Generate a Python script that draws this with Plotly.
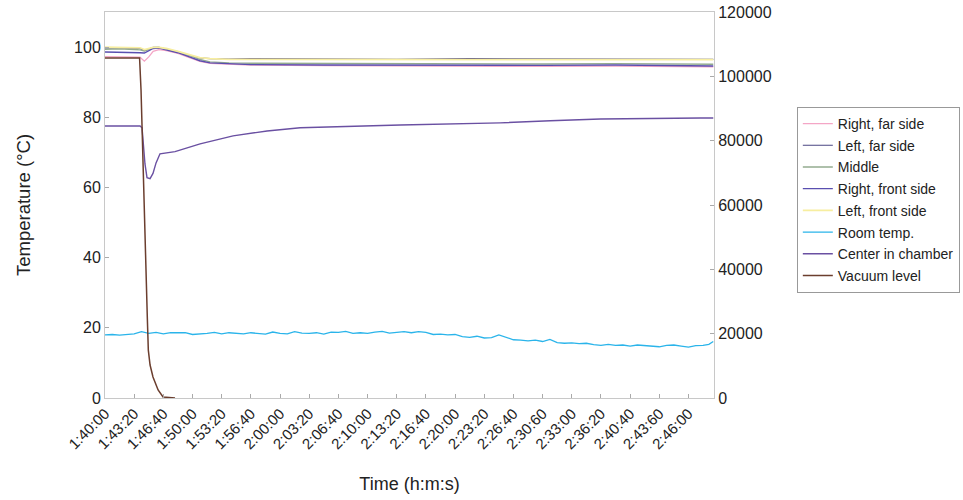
import plotly.graph_objects as go

# time offsets in seconds from 1:40:00
tick_labels = ["1:40:00", "1:43:20", "1:46:40", "1:50:00", "1:53:20", "1:56:40",
               "2:00:00", "2:03:20", "2:06:40", "2:10:00", "2:13:20", "2:16:40",
               "2:20:00", "2:23:20", "2:26:40", "2:30:60", "2:33:00", "2:36:20",
               "2:40:40", "2:43:60", "2:46:00"]
tick_seconds = [200 * i for i in range(len(tick_labels))]

t_top = [0, 100, 200, 240, 270, 300, 330, 370, 420, 500, 560, 650, 720, 850,
         1000, 1500, 2000, 2500, 3000, 3500, 4000, 4170]
right_far = [97.3, 97.2, 97.3, 97.1, 96.0, 97.2, 98.8, 99.3, 99.0, 98.2, 97.3, 95.9,
             95.4, 95.1, 94.9, 94.7, 94.6, 94.6, 94.5, 94.6, 94.5, 94.4]
left_far = [99.8, 99.7, 99.8, 99.6, 99.0, 99.5, 99.9, 99.9, 99.4, 98.6, 97.8, 96.9,
            96.7, 96.6, 96.7, 96.6, 96.5, 96.7, 96.6, 96.7, 96.6, 96.5]
middle = [99.4, 99.5, 99.3, 99.2, 98.9, 99.4, 99.8, 99.9, 99.5, 98.7, 97.9, 96.5,
          95.8, 95.5, 95.4, 95.3, 95.2, 95.3, 95.2, 95.3, 95.2, 95.1]
right_front = [98.6, 98.5, 98.6, 98.4, 98.3, 99.0, 99.6, 99.7, 99.2, 98.4, 97.5, 96.1,
               95.5, 95.2, 95.0, 94.9, 94.8, 94.8, 94.8, 94.9, 94.7, 94.6]
left_front = [100.0, 99.9, 100.0, 99.8, 99.3, 99.6, 99.9, 99.9, 99.6, 98.8, 98.1, 97.0,
              96.7, 96.5, 96.5, 96.5, 96.4, 96.5, 96.4, 96.5, 96.4, 96.4]

t_room = [0, 50, 100, 150, 200, 250, 300, 350, 400, 450,
          500, 550, 600, 650, 700, 750, 800, 850, 900, 950,
          1000, 1050, 1100, 1150, 1200, 1250, 1300, 1350, 1400, 1450,
          1500, 1550, 1600, 1650, 1700, 1750, 1800, 1850, 1900, 1950,
          2000, 2050, 2100, 2150, 2200, 2250, 2300, 2350, 2400, 2450,
          2500, 2550, 2600, 2650, 2700, 2750, 2800, 2850, 2900, 2950,
          3000, 3050, 3100, 3150, 3200, 3250, 3300, 3350, 3400, 3450,
          3500, 3550, 3600, 3650, 3700, 3750, 3800, 3850, 3900, 3950,
          4000, 4050, 4100, 4140, 4170]
room = [18.0, 18.1, 17.9, 18.0, 18.3, 18.9, 18.4, 18.7, 18.3, 18.6,
        18.5, 18.6, 18.1, 18.2, 18.4, 18.7, 18.3, 18.6, 18.4, 18.3,
        18.6, 18.4, 18.2, 18.8, 18.4, 18.3, 18.9, 18.5, 18.4, 18.6,
        18.2, 18.8, 18.7, 19.0, 18.4, 18.6, 18.4, 18.8, 19.0, 18.5,
        18.6, 18.9, 18.6, 18.9, 18.7, 18.1, 18.2, 18.0, 18.1, 17.5,
        17.3, 17.6, 17.1, 17.2, 18.0, 17.4, 16.6, 16.5, 16.3, 16.5,
        16.1, 16.7, 15.8, 15.6, 15.7, 15.5, 15.6, 15.2, 15.0, 15.3,
        15.0, 15.1, 14.8, 15.1, 15.0, 14.9, 14.6, 15.0, 15.1, 14.8,
        14.5, 14.9, 15.0, 15.3, 16.1]

t_center = [0, 100, 200, 240, 254, 274, 288, 309, 329, 350, 377, 425, 480, 652, 878,
            1111, 1338, 2024, 2710, 3053, 3396, 4082, 4170]
center = [77.5, 77.5, 77.5, 77.5, 77.0, 66.7, 62.8, 62.5, 64.0, 67.0, 69.6, 69.9, 70.2,
          72.4, 74.7, 76.1, 77.0, 77.8, 78.4, 79.0, 79.5, 79.8, 79.8]

t_vac = [0, 100, 200, 237, 247, 257, 268, 274, 290, 297, 309, 329, 364, 398, 480]
vacuum = [105700, 105700, 105700, 105700, 95750, 77100, 58450, 46000, 25180, 14900,
          10260, 6530, 2490, 311, 0]

series = [
    ("Right, far side", t_top, right_far, "#f4a6c6", "y", 1.3),
    ("Left, far side", t_top, left_far, "#4a4682", "y", 1.2),
    ("Middle", t_top, middle, "#93ab8f", "y", 1.4),
    ("Right, front side", t_top, right_front, "#5a4fb0", "y", 1.4),
    ("Left, front side", t_top, left_front, "#f7eea0", "y", 1.8),
    ("Room temp.", t_room, room, "#2ab4ea", "y", 1.3),
    ("Center in chamber", t_center, center, "#6a50a2", "y", 1.4),
    ("Vacuum level", t_vac, vacuum, "#6b3e2e", "y2", 1.5),
]

fig = go.Figure()
for i, (name, xs, ys, color, ax, w) in enumerate(series):
    fig.add_trace(go.Scatter(x=xs, y=ys, name=name, mode="lines", yaxis=ax,
                             line=dict(color=color, width=w),
                             legendgroup="g%d" % i))

font = "Liberation Sans, Arial, Helvetica, sans-serif"
fig.update_layout(
    width=963, height=500,
    margin=dict(l=105, r=249, t=12, b=102, autoexpand=False),
    paper_bgcolor="white", plot_bgcolor="white",
    font=dict(family=font, color="#222222", size=15),
    showlegend=True,
    legend=dict(x=1.136, y=0.754, xanchor="left", yanchor="top",
                bordercolor="#999999", borderwidth=1, bgcolor="white",
                font=dict(size=14, family=font, color="#222222"),
                tracegroupgap=0.5, itemwidth=30),
    xaxis=dict(range=[0, 4175], tickvals=tick_seconds, ticktext=tick_labels,
               tickangle=-45, tickfont=dict(size=15), ticks="inside", ticklen=4,
               tickcolor="#aaaaaa", showgrid=False, zeroline=False, automargin=False,
               showline=True, linecolor="#c8c8c8", mirror=True,
               title=dict(text="Time (h:m:s)", font=dict(size=18), standoff=26)),
    yaxis=dict(range=[0, 110], tickvals=[0, 20, 40, 60, 80, 100], ticks="inside",
               ticklen=4, tickcolor="#aaaaaa", showgrid=False, zeroline=False,
               showline=True, linecolor="#c8c8c8", tickfont=dict(size=16),
               automargin=False,
               title=dict(text="Temperature (°C)", font=dict(size=18.5), standoff=38)),
    yaxis2=dict(range=[0, 120000], overlaying="y", side="right",
                tickvals=[0, 20000, 40000, 60000, 80000, 100000, 120000],
                tickformat="d", automargin=False,
                ticks="inside", ticklen=4, tickcolor="#aaaaaa", showgrid=False,
                zeroline=False, showline=True, linecolor="#c8c8c8",
                tickfont=dict(size=16)),
)

fig.write_html("out.html", config={"displayModeBar": False},
               post_script="document.body.style.margin='0';")
